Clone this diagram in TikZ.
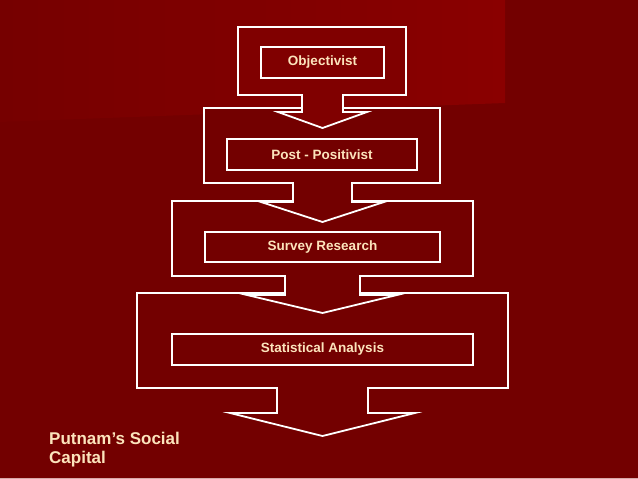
\documentclass[tikz,border=0pt]{standalone}
\usepackage{fontspec}
\setmainfont{Liberation Sans}
\definecolor{slidered}{HTML}{730000}
\definecolor{glowred}{HTML}{8A0000}
\definecolor{fadered}{HTML}{760000}
\definecolor{cream}{HTML}{FCE4BC}
\definecolor{edgepink}{HTML}{D8A8A8}

\tikzset{
	blockarrow/.style = {draw = white, line width = 1.8pt, fill = slidered, line join = miter},
	stagebox/.style = {draw = white, line width = 1.8pt, minimum height = 31pt, inner sep = 0pt, text = cream, font = \fontsize{13.5}{16}\selectfont\bfseries}
}

\begin{document}
\begin{tikzpicture}[x = 1pt, y = -1pt]
	\useasboundingbox (0,0) rectangle (638,479);
	\fill[slidered] (0,0) rectangle (638,479);
	\shade[left color = fadered, right color = glowred] (0,0) -- (505,0) -- (505,103) -- (0,122) -- cycle;
	\draw[edgepink, line width = 1pt] (0,478) -- (638,478);
	% last stage first, so each arrow lies over the block below it
	\draw[blockarrow] (137,293) -- (508,293) -- (508,388) -- (368,388) -- (368,413) -- (415,413) -- (322.5,436) -- (230,413) -- (277,413) -- (277,388) -- (137,388) -- cycle;
	\draw[blockarrow] (172,201) -- (473,201) -- (473,276) -- (360,276) -- (360,295) -- (397,295) -- (322.5,313) -- (247,295) -- (285,295) -- (285,276) -- (172,276) -- cycle;
	\draw[blockarrow] (204,108) -- (440,108) -- (440,183) -- (352,183) -- (352,202) -- (384,202) -- (322.5,222) -- (261,202) -- (293,202) -- (293,183) -- (204,183) -- cycle;
	\draw[blockarrow, fill = fadered!50!glowred] (238,27) -- (406,27) -- (406,95) -- (343,95) -- (343,112) -- (367,112) -- (322.5,128) -- (278,112) -- (302,112) -- (302,95) -- (238,95) -- cycle;
	% inner boxes
	\node[stagebox, minimum width = 123pt] (objectivist) at (322.5,62.5) {Objectivist};
	\node[stagebox, minimum width = 190pt] (postpos) at (322,154.5) {Post - Positivist};
	\node[stagebox, minimum width = 235pt, minimum height = 30pt] (survey) at (322.5,247) {Survey Research};
	\node[stagebox, minimum width = 301pt] (statistical) at (322.5,349.5) {Statistical Analysis};
	% slide caption
	\node[anchor = north west, inner sep = 0pt, align = left, text = cream, font = \fontsize{17}{18.5}\selectfont\bfseries] (putnam) at (49,432) {Putnam’s Social\\Capital};
\end{tikzpicture}
\end{document}
